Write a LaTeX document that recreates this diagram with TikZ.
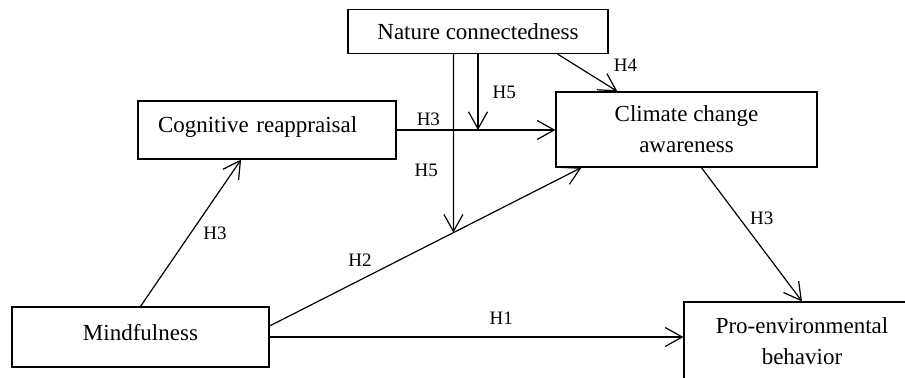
\documentclass[tikz,border=0pt]{standalone}
\usepackage{fontspec}
\setmainfont{Liberation Serif}
\usetikzlibrary{calc,arrows.meta}

\begin{document}
\begin{tikzpicture}[
        x=0.5pt, y=-0.5pt,
        >={Straight Barb[length=8.5pt,width=9.5pt]},
        box/.style={draw, line width=0.6pt, inner sep=0pt, align=center,
                    font=\fontsize{11.5}{15.5}\selectfont},
        lift/.style={text depth=5pt},
        arr/.style={->, line width=0.6pt},
        hyp/.style={font=\fontsize{9.5}{11}\selectfont, inner sep=2pt}
      ]
        \useasboundingbox (0,0) rectangle (905,378);
        \clip (0,0) rectangle (905,378);

        \node[box, minimum width=130pt, minimum height=22pt] (nature) at (478,31.5) {Nature connectedness};
        \node[box, lift, minimum height=29pt, inner xsep=10pt, text width=109pt, align=left] (cog) at (267,130) {Cognitive reappraisal};
        \node[box, minimum width=130.5pt, minimum height=37.5pt] (climate) at (686.5,129.5) {Climate change\\awareness};
        \node[box, lift, minimum width=128.5pt, minimum height=30pt] (mind) at (140.5,337) {Mindfulness};
        \node[box, minimum width=118pt, minimum height=39pt] (pro) at (802,341) {Pro-environmental\\behavior};

        \coordinate (h2s) at ([yshift=5.5pt]mind.east);
        \coordinate (h2e) at ([xshift=13pt]climate.south west);
        \coordinate (h5s) at ([xshift=53pt]nature.south west);
        \coordinate (h5b) at (h5s |- mind.north);
        \coordinate (h5e) at (intersection of h2s--h2e and h5s--h5b);

        \draw[arr] (mind.north) -- ($(cog.south west)!0.4!(cog.south east)$) node[hyp, pos=0.5, right=4pt] {H3};
        \draw[arr] (cog.east) -- (cog.east -| climate.west) node[hyp, pos=0.2, above] {H3};
        \draw[arr] (h5s) -- (h5e) node[hyp, pos=0.65, left=5.5pt] {H5};
        \draw[arr] (nature.south) -- (nature.south |- cog.east) node[hyp, pos=0.5, right=5pt] {H5};
        \draw[arr] ([xshift=-25.5pt]nature.south east) -- ([xshift=31pt]climate.north west) node[hyp, pos=1, xshift=4pt, yshift=13pt] {H4};
        \draw[arr] (h2s) -- (h2e) node[hyp, pos=0.29, above=4.5pt] {H2};
        \draw[arr] (mind.east) -- (mind.east -| pro.west) node[hyp, pos=0.56, above=4pt] {H1};
        \draw[arr] ([xshift=73pt]climate.south west) -- (pro.north) node[hyp, pos=0.38, right=3pt] {H3};
      \end{tikzpicture}
\end{document}
